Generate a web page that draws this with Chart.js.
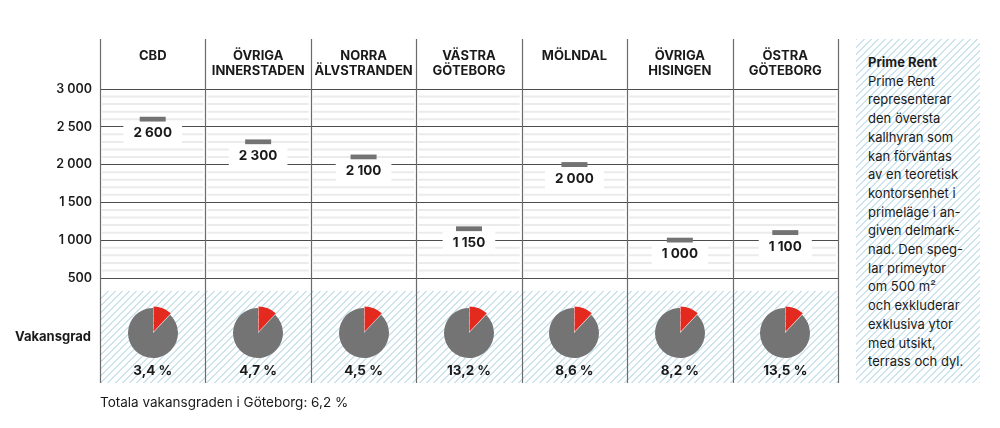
<!DOCTYPE html>
<html lang="sv">
<head>
<meta charset="utf-8">
<title>Prime Rent och vakansgrad i Göteborg</title>
<script src="https://cdn.jsdelivr.net/npm/chart.js@4.4.1/dist/chart.umd.min.js"></script>
<style>
    html, body { margin: 0; padding: 0; background: #fff; }
    body {
        width: 1000px; height: 428px; position: relative; overflow: hidden;
        font-family: Inter, "Open Sans", sans-serif; color: #1a1a1a;
    }
    .hatch {
        position: absolute;
        background: repeating-linear-gradient(135deg, #cde4ef 0, #cde4ef 1.4px, #fff 1.4px, #fff 5px);
    }
    #pieBand { left: 100px; top: 291px; width: 738px; height: 92px; }
    #main { position: absolute; left: 0; top: 0; }
    .pie { position: absolute; }
    #note {
        left: 856px; top: 39px; width: 124px; height: 344px;
        box-sizing: border-box; padding: 14px 0 0 12px;
        font-size: 13px; line-height: 18.7px; color: #1a1a1a;
    }
    #note b { font-weight: 700; }
    #total { position: absolute; left: 100px; top: 393px; font-size: 13.5px; line-height: 18px; }
</style>
</head>
<body>
<div id="pieBand" class="hatch"></div>
<canvas id="main" width="1000" height="428"></canvas>
<div id="note" class="hatch">
    <b>Prime Rent</b><br>
    Prime Rent<br>representerar<br>den översta<br>kallhyran som<br>kan förväntas<br>av en teoretisk<br>kontorsenhet i<br>primeläge i an-<br>given delmark-<br>nad. Den speg-<br>lar primeytor<br>om 500 m²<br>och exkluderar<br>exklusiva ytor<br>med utsikt,<br>terrass och dyl.
</div>
<div id="total"></div>

<script>
// ========== DATA ==========
const districts = [
    ['CBD'],
    ['ÖVRIGA', 'INNERSTADEN'],
    ['NORRA', 'ÄLVSTRANDEN'],
    ['VÄSTRA', 'GÖTEBORG'],
    ['MÖLNDAL'],
    ['ÖVRIGA', 'HISINGEN'],
    ['ÖSTRA', 'GÖTEBORG']
];
const primeRent = [2600, 2300, 2100, 1150, 2000, 1000, 1100];
const vacancy = [3.4, 4.7, 4.5, 13.2, 8.6, 8.2, 13.5];
// red slice as it is drawn in every pie of the picture
const pieShare = [12, 12, 12, 12, 12, 12, 12];
const rentTicks = [500, 1000, 1500, 2000, 2500, 3000];
const totalVacancy = 6.2;

// ========== HELPERS ==========
const FONT = 'Inter, "Open Sans", sans-serif';
const formatRent = v => String(v).replace(/\B(?=(\d{3})+(?!\d))/g, ' ');
const formatPct = v => v.toFixed(1).replace('.', ',') + ' %';

document.getElementById('total').textContent =
    'Totala vakansgraden i Göteborg: ' + formatPct(totalVacancy);

// ========== FRAME PLUGIN ==========
const framePlugin = {
    id: 'frame',
    beforeDatasetsDraw(chart) {
        const { ctx, chartArea, scales: { y } } = chart;
        const colW = chartArea.width / districts.length;
        ctx.save();

        // light lines every 100
        ctx.strokeStyle = '#ebebeb';
        ctx.lineWidth = 2;
        for (let v = rentTicks[0] + 100; v < rentTicks[rentTicks.length - 1]; v += 100) {
            if (v % 500 === 0) continue;
            const py = y.getPixelForValue(v);
            districts.forEach((d, i) => {
                const left = chartArea.left + i * colW;
                ctx.beginPath();
                ctx.moveTo(left + 2, py);
                ctx.lineTo(left + colW - 2, py);
                ctx.stroke();
            });
        }

        // column separators
        ctx.strokeStyle = '#6b6b6b';
        ctx.lineWidth = 1.2;
        for (let i = 0; i <= districts.length; i++) {
            const px = Math.round(chartArea.left + i * colW) + 0.5;
            ctx.beginPath();
            ctx.moveTo(px, 39);
            ctx.lineTo(px, 383);
            ctx.stroke();
        }
        ctx.restore();
    },
    afterDatasetsDraw(chart) {
        const { ctx, scales: { x } } = chart;
        const meta = chart.getDatasetMeta(0);
        ctx.save();
        ctx.textAlign = 'center';
        ctx.textBaseline = 'middle';

        // value labels under the markers
        ctx.font = `700 13.5px ${FONT}`;
        meta.data.forEach((pt, i) => {
            const txt = formatRent(primeRent[i]);
            const w = ctx.measureText(txt).width + 20;
            ctx.fillStyle = '#fff';
            ctx.fillRect(pt.x - w / 2, pt.y + 2.5, w, 22);
            ctx.fillStyle = '#1a1a1a';
            ctx.fillText(txt, pt.x, pt.y + 14);
        });

        // column headers
        ctx.font = `700 13px ${FONT}`;
        ctx.fillStyle = '#1a1a1a';
        districts.forEach((lines, i) => {
            const px = x.getPixelForValue(i);
            lines.forEach((line, j) => ctx.fillText(line, px, 56 + j * 15));
        });

        // vacancy labels
        ctx.font = `700 13.5px ${FONT}`;
        vacancy.forEach((v, i) => ctx.fillText(formatPct(v), x.getPixelForValue(i), 371));

        ctx.textAlign = 'right';
        ctx.font = `700 13px ${FONT}`;
        ctx.fillText('Vakansgrad', 91, 337);
        ctx.restore();
    }
};

// ========== MAIN CHART ==========
const mainChart = new Chart(document.getElementById('main'), {
    type: 'line',
    data: {
        labels: districts,
        datasets: [{
            label: 'Prime Rent',
            data: primeRent,
            showLine: false,
            pointStyle: 'line',
            pointRadius: 13,
            pointBorderWidth: 5,
            borderColor: '#737373',
            backgroundColor: '#737373'
        }]
    },
    options: {
        responsive: false,
        animation: false,
        events: [],
        layout: { padding: { left: 0, top: 89, right: 162, bottom: 150 } },
        plugins: { legend: { display: false }, tooltip: { enabled: false } },
        scales: {
            x: { display: false, offset: true },
            y: {
                min: rentTicks[0],
                max: rentTicks[rentTicks.length - 1],
                afterFit: scale => { scale.width = 100; },
                afterBuildTicks: scale => { scale.ticks = rentTicks.map(v => ({ value: v })); },
                border: { display: false },
                grid: { color: '#4d4d4d', lineWidth: 1, drawTicks: false },
                ticks: {
                    padding: 8,
                    color: '#1a1a1a',
                    font: { family: FONT, size: 12.5, weight: '600' },
                    callback: v => formatRent(v)
                }
            }
        }
    },
    plugins: [framePlugin]
});

// ========== PIES ==========
const xScale = mainChart.scales.x;
districts.forEach((d, i) => {
    const c = document.createElement('canvas');
    c.width = 70;
    c.height = 70;
    c.className = 'pie';
    c.style.left = (xScale.getPixelForValue(i) - 35) + 'px';
    c.style.top = (333 - 35) + 'px';
    document.body.appendChild(c);
    new Chart(c, {
        type: 'pie',
        data: {
            labels: ['Vakant', 'Uthyrt'],
            datasets: [{
                data: [pieShare[i], 100 - pieShare[i]],
                backgroundColor: ['#e4291e', '#747474'],
                borderWidth: 0,
                offset: [5, 0]
            }]
        },
        options: {
            responsive: false,
            animation: false,
            events: [],
            radius: 25,
            plugins: { legend: { display: false }, tooltip: { enabled: false } }
        }
    });
});
</script>
</body>
</html>
